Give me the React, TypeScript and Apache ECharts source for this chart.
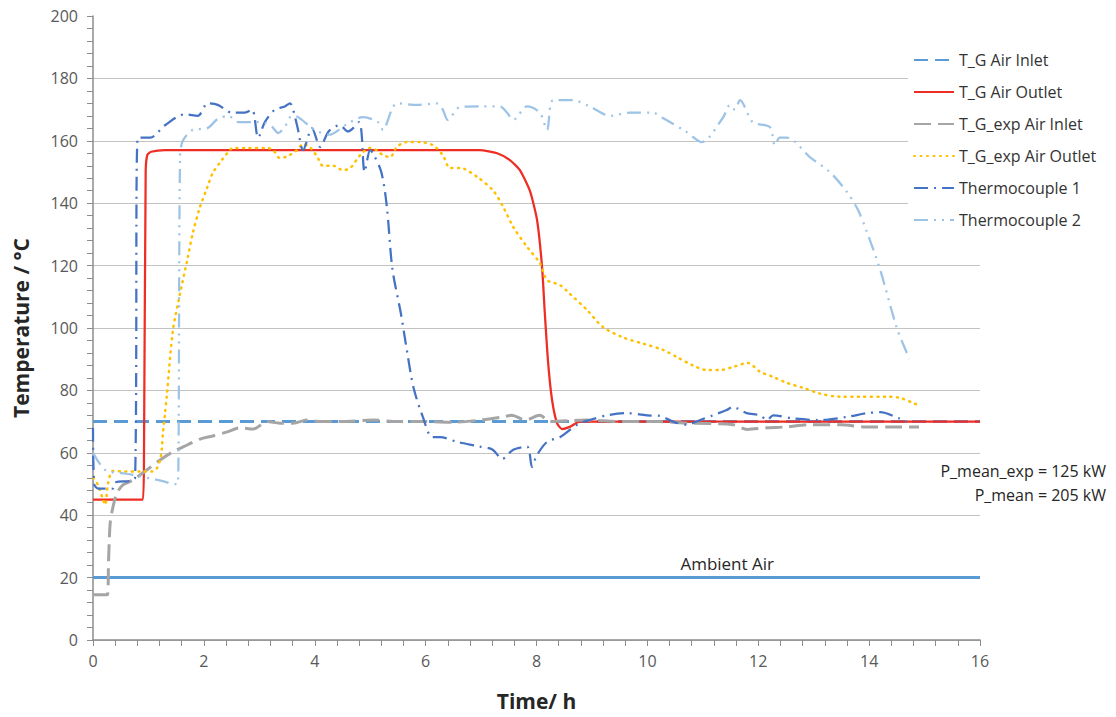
import React, { useEffect, useRef } from "react";
import * as echarts from "echarts";

// Time (h), temperature (°C)
const airInlet: number[][] = [[0, 70], [16, 70]];
const ambientAir: number[][] = [[0, 20], [16, 20]];
const ambientLabelPos: number[] = [11.44, 20];
const airOutlet: number[][] = [
  [0, 45], [0.9, 45], [0.92, 60], [0.95, 150], [0.98, 155.5], [1.05, 156.5], [1.3, 157],
  [6.98, 157], [7.29, 156], [7.52, 153.8], [7.7, 150.6], [7.88, 144], [8.01, 134.6],
  [8.1, 119.6], [8.15, 104.8], [8.21, 88.8], [8.28, 77], [8.37, 69.5], [8.46, 67.6],
  [8.6, 68.3], [8.78, 70], [16, 70],
];
const expAirInlet: number[][] = [
  [0, 14.5], [0.26, 14.5], [0.28, 25], [0.31, 37.5], [0.36, 42.6], [0.43, 47], [0.54, 49.7],
  [0.72, 51.3], [0.97, 54.5], [1.21, 57.7], [1.44, 60.3], [1.7, 62.5], [1.93, 64.4],
  [2.16, 65.4], [2.42, 66.7], [2.65, 68], [2.89, 67.6], [3.14, 70], [3.37, 69.5], [3.61, 69.5],
  [3.86, 70.5], [4.09, 70], [4.45, 70], [5.05, 70.5], [5.5, 70], [6.0, 70], [6.5, 69.8],
  [7.0, 70.5], [7.4, 71.5], [7.55, 72], [7.8, 70.5], [8.06, 72], [8.24, 70], [8.9, 70.5],
  [9.5, 70], [10.2, 70], [10.72, 69.5], [11.55, 69], [11.8, 67.5], [12.15, 68], [12.5, 68.3],
  [12.9, 69], [13.5, 69], [13.9, 68.3], [14.4, 68.3], [14.9, 68.3],
];
const expAirOutlet: number[][] = [
  [0, 52], [0.09, 49.7], [0.18, 45], [0.22, 43.3], [0.27, 50], [0.36, 54.2], [0.58, 54],
  [0.88, 54], [1.06, 54], [1.15, 55], [1.21, 57.7], [1.24, 61], [1.26, 66], [1.3, 72.7],
  [1.33, 78], [1.44, 99], [1.57, 111], [1.7, 121.8], [1.8, 130.4], [1.93, 138.8], [2.06, 145],
  [2.16, 149.7], [2.29, 153], [2.42, 156], [2.53, 157.7], [2.78, 157.7], [3.14, 157.7],
  [3.25, 157], [3.37, 154.5], [3.5, 155], [3.68, 157], [3.79, 159], [3.91, 158], [4.04, 155],
  [4.15, 152], [4.33, 152], [4.51, 150.6], [4.64, 151.3], [4.82, 155.4], [5.0, 157.7],
  [5.12, 157], [5.23, 155.4], [5.36, 154.8], [5.48, 158], [5.66, 159.6], [5.9, 159.6],
  [6.13, 158.6], [6.31, 155.4], [6.44, 151.3], [6.62, 151.3], [6.93, 148.4], [7.22, 144],
  [7.4, 138.8], [7.58, 132.4], [7.83, 126], [8.06, 120.8], [8.19, 115.4], [8.42, 113.8],
  [8.6, 111], [8.91, 105.8], [9.2, 100.3], [9.56, 97], [9.92, 95], [10.28, 93], [10.53, 90.7],
  [10.82, 88], [11.08, 86.5], [11.31, 86.5], [11.54, 87.5], [11.81, 88.8], [12.03, 86],
  [12.27, 84.3], [12.52, 82.4], [12.81, 80.8], [13.11, 79], [13.47, 78], [13.83, 78],
  [14.32, 78], [14.56, 77.6], [14.79, 76], [14.92, 75],
];
const thermocouple1: number[][] = [
  [0, 68], [0.02, 50], [0.1, 48.5], [0.35, 48.5], [0.4, 50.5], [0.67, 51], [0.76, 52],
  [0.81, 161], [1.03, 161], [1.3, 165], [1.66, 168.5], [1.89, 168], [2.07, 172], [2.25, 171.5],
  [2.51, 169], [2.74, 169], [2.87, 170], [2.98, 161], [3.1, 166], [3.28, 170], [3.46, 171],
  [3.55, 172], [3.68, 165], [3.79, 157], [3.95, 164], [4.1, 158], [4.25, 163], [4.45, 165],
  [4.6, 163], [4.8, 166], [4.9, 150], [5.0, 157], [5.05, 156], [5.2, 150], [5.3, 139],
  [5.4, 119], [5.55, 105], [5.67, 92], [5.78, 81], [5.95, 71.5], [6.12, 65], [6.26, 65],
  [6.57, 63.5], [6.98, 62], [7.21, 61], [7.38, 58], [7.58, 61], [7.83, 62], [7.92, 55.5],
  [8.0, 59], [8.19, 63.5], [8.42, 65], [8.6, 67.3], [8.78, 69.5], [8.96, 70.5], [9.27, 72],
  [9.63, 72.7], [9.99, 72], [10.23, 71.8], [10.46, 70], [10.71, 69], [10.95, 70.5], [11.18, 72],
  [11.43, 73.7], [11.54, 74.7], [11.79, 72.7], [12.03, 72], [12.16, 70.5], [12.27, 72],
  [12.63, 71], [13.1, 70.5], [13.6, 71.5], [13.96, 72.7], [14.2, 73], [14.55, 71], [14.68, 70],
];
const thermocouple2: number[][] = [
  [0, 60], [0.22, 54.5], [0.52, 53.5], [0.7, 53], [1.24, 51], [1.48, 50], [1.53, 50],
  [1.57, 155], [1.62, 160], [1.8, 163.5], [2.06, 164], [2.25, 167], [2.44, 168], [2.62, 166],
  [2.92, 166], [3.1, 165.7], [3.23, 164.5], [3.34, 162.5], [3.46, 164.5], [3.59, 168],
  [3.7, 167.6], [4.0, 163.5], [4.27, 162], [4.55, 165], [4.87, 167.6], [5.14, 166],
  [5.23, 163.5], [5.39, 170], [5.48, 172], [5.84, 171.5], [6.2, 172], [6.31, 170], [6.4, 166.7],
  [6.62, 170.8], [6.98, 171], [7.34, 171], [7.47, 169], [7.58, 166.7], [7.83, 171], [8.06, 169],
  [8.19, 163.5], [8.3, 173], [8.66, 173], [8.96, 171], [9.33, 168], [9.69, 169], [10.1, 169],
  [10.28, 167.3], [10.71, 162.8], [10.98, 159.6], [11.36, 167.3], [11.49, 171.5], [11.58, 170],
  [11.67, 173], [11.9, 166], [12.21, 164.4], [12.3, 158.6], [12.39, 161], [12.52, 161],
  [12.93, 154.8], [13.29, 150], [13.6, 143.6], [13.8, 137.8], [13.96, 130.8], [14.2, 118.6],
  [14.5, 100], [14.68, 92], [14.72, 90],
];

const seriesNames = [
  "T_G Air Inlet",
  "T_G Air Outlet",
  "T_G_exp Air Inlet",
  "T_G_exp Air Outlet",
  "Thermocouple 1",
  "Thermocouple 2",
];
const powerTexts = ["P_mean_exp = 125 kW", "P_mean = 205 kW"];
const ambientLabel = "Ambient Air";

const FONT = "'Open Sans', 'Noto Sans', sans-serif";

export default function App() {
  const ref = useRef<HTMLDivElement>(null);
  useEffect(() => {
    if (!ref.current) return;
    const chart = echarts.init(ref.current, undefined, { renderer: "svg" });
    const line = (name: string, data: number[][], color: string, width: number, type: any, extra: any = {}) => ({
      name,
      type: "line",
      data,
      showSymbol: false,
      symbol: "none",
      smooth: 0.3,
      lineStyle: { color, width, type, cap: "butt", ...extra },
      itemStyle: { color },
      z: 3,
    });
    const gridColors = Array(10).fill("#c3c3c3").concat(["rgba(0,0,0,0)"]);
    chart.setOption({
      animation: false,
      backgroundColor: "#ffffff",
      textStyle: { fontFamily: FONT },
      grid: { left: 93, right: 136, top: 16, bottom: 77, outerBoundsMode: "none", containLabel: false },
      legend: {
        data: seriesNames,
        orient: "vertical",
        left: 908,
        top: 47,
        padding: [5, 5, 5, 5],
        backgroundColor: "#ffffff",
        itemWidth: 40,
        itemHeight: 14,
        itemGap: 16,
        itemStyle: { color: "rgba(0,0,0,0)", borderWidth: 0, opacity: 0 },
        textStyle: { fontSize: 16, color: "#333333", fontFamily: FONT },
      },
      xAxis: {
        type: "value",
        min: 0,
        max: 16,
        interval: 2,
        name: "Time/ h",
        nameLocation: "middle",
        nameGap: 50,
        nameTextStyle: { fontSize: 21, fontWeight: "bold", color: "#262626", fontFamily: FONT },
        axisLine: { show: true, lineStyle: { color: "#8c8c8c", width: 1.5 } },
        axisTick: { show: true, length: 6, lineStyle: { color: "#8c8c8c" } },
        minorTick: { show: true, splitNumber: 5, length: 6, lineStyle: { color: "#8c8c8c" } },
        axisLabel: { fontSize: 16, color: "#595959", margin: 13, fontFamily: FONT },
        splitLine: { show: false },
      },
      yAxis: {
        type: "value",
        min: 0,
        max: 200,
        interval: 20,
        name: "Temperature / °C",
        nameLocation: "middle",
        nameGap: 62,
        nameTextStyle: { fontSize: 21, fontWeight: "bold", color: "#262626", fontFamily: FONT },
        axisLine: { show: true, lineStyle: { color: "#8c8c8c", width: 1.5 } },
        axisTick: { show: true, length: 6, lineStyle: { color: "#8c8c8c" } },
        minorTick: { show: true, splitNumber: 5, length: 6, lineStyle: { color: "#8c8c8c" } },
        axisLabel: { fontSize: 16, color: "#595959", margin: 15, fontFamily: FONT },
        splitLine: { show: true, lineStyle: { color: gridColors, width: 1 } },
      },
      graphic: [
        {
          type: "text",
          right: 10,
          top: 463,
          style: { text: powerTexts[0], font: `16px ${FONT}`, fill: "#262626", textAlign: "right" },
          z: 10,
        },
        {
          type: "text",
          right: 10,
          top: 487,
          style: { text: powerTexts[1], font: `16px ${FONT}`, fill: "#262626", textAlign: "right" },
          z: 10,
        },
      ],
      series: [
        {
          name: ambientLabel,
          type: "line",
          data: ambientAir,
          showSymbol: false,
          symbol: "none",
          lineStyle: { color: "#5b9bd5", width: 3 },
          itemStyle: { color: "#5b9bd5" },
          z: 2,
          markPoint: {
            symbol: "circle",
            symbolSize: 1,
            itemStyle: { color: "rgba(0,0,0,0)" },
            label: {
              show: true,
              position: "top",
              distance: 5,
              formatter: ambientLabel,
              fontSize: 17,
              color: "#262626",
              fontFamily: FONT,
            },
            data: [{ coord: ambientLabelPos }],
          },
        },
        { ...line(seriesNames[0], airInlet, "#5b9bd5", 3, [14, 7]), smooth: false },
        { ...line(seriesNames[1], airOutlet, "#ee2d24", 2.25, "solid"), smooth: 0.2 },
        line(seriesNames[2], expAirInlet, "#a5a5a5", 3, [17, 7]),
        line(seriesNames[3], expAirOutlet, "#ffc000", 2.5, [1, 5.5], { cap: "round" }),
        line(seriesNames[4], thermocouple1, "#4472c4", 2.25, [14, 6, 2, 6]),
        line(seriesNames[5], thermocouple2, "#9dc3e6", 2.25, [14, 6, 2, 6, 2, 6]),
      ],
    });
    return () => chart.dispose();
  }, []);
  return <div ref={ref} style={{ width: 1116, height: 717, position: "absolute", left: 0, top: 0 }} />;
}
